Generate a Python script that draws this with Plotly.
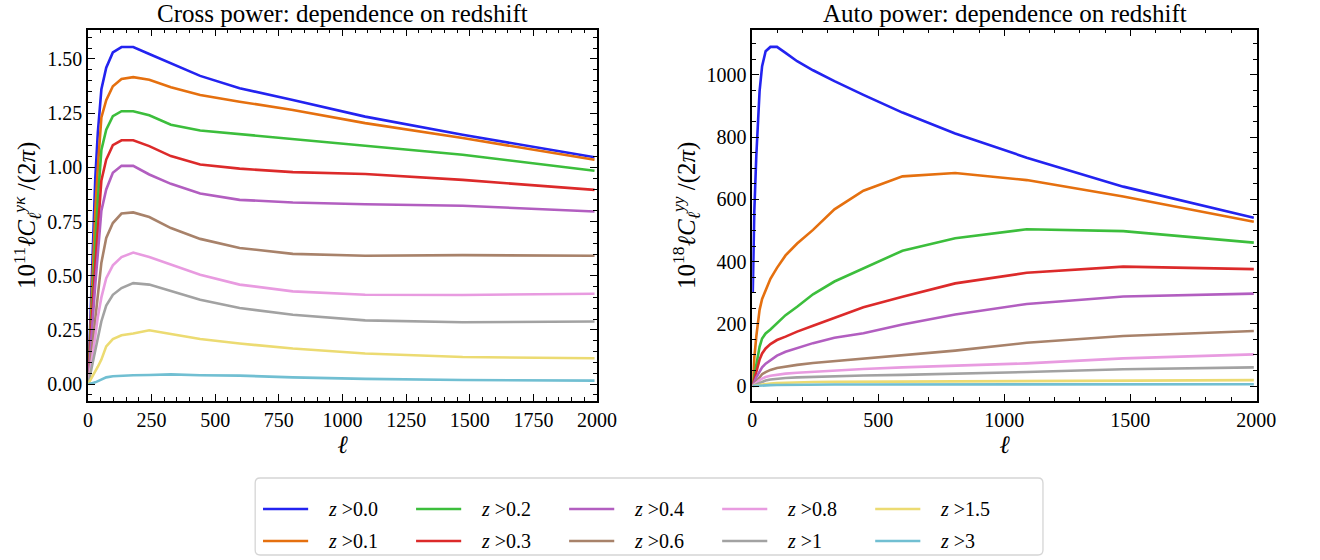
import plotly.graph_objects as go

# ---------------- data ----------------
ells = [2, 4, 8, 16, 29, 39, 53, 72, 98, 132, 178, 241, 326, 441, 596, 805, 1089, 1472, 1990]

labels = ["0.0", "0.1", "0.2", "0.3", "0.4", "0.6", "0.8", "1", "1.5", "3"]
colors = ["#2323f0", "#e5700f", "#3cbe3c", "#dc2a2a", "#b25ec0",
          "#a8826a", "#e89be0", "#a2a2a2", "#ecdb72", "#71bfd2"]

cross_z00 = [0.03, 0.10, 0.26, 0.58, 0.95, 1.16, 1.36, 1.46, 1.53, 1.555, 1.555, 1.523, 1.48, 1.422, 1.365, 1.311, 1.234, 1.150, 1.047]
cross_z01 = [0.02, 0.08, 0.21, 0.47, 0.80, 1.00, 1.23, 1.31, 1.374, 1.408, 1.416, 1.404, 1.37, 1.334, 1.303, 1.265, 1.204, 1.135, 1.035]
cross_z02 = [0.02, 0.07, 0.17, 0.38, 0.65, 0.85, 1.08, 1.174, 1.236, 1.259, 1.259, 1.24, 1.197, 1.17, 1.154, 1.131, 1.10, 1.058, 0.984]
cross_z03 = [0.015, 0.05, 0.14, 0.31, 0.55, 0.73, 0.94, 1.036, 1.102, 1.125, 1.125, 1.098, 1.052, 1.013, 0.994, 0.978, 0.969, 0.942, 0.896]
cross_z04 = [0.01, 0.04, 0.11, 0.25, 0.46, 0.61, 0.80, 0.898, 0.975, 1.007, 1.007, 0.967, 0.924, 0.879, 0.850, 0.838, 0.830, 0.823, 0.796]
cross_z06 = [0.008, 0.03, 0.07, 0.16, 0.30, 0.43, 0.56, 0.674, 0.743, 0.787, 0.792, 0.771, 0.72, 0.67, 0.628, 0.601, 0.592, 0.595, 0.592]
cross_z08 = [0.005, 0.02, 0.05, 0.11, 0.22, 0.31, 0.40, 0.489, 0.548, 0.586, 0.607, 0.586, 0.551, 0.505, 0.459, 0.428, 0.412, 0.411, 0.417]
cross_z1 = [0.004, 0.015, 0.035, 0.08, 0.15, 0.21, 0.29, 0.362, 0.412, 0.443, 0.466, 0.459, 0.428, 0.389, 0.351, 0.32, 0.294, 0.285, 0.289]
cross_z15 = [0.002, 0.006, 0.013, 0.03, 0.055, 0.08, 0.113, 0.174, 0.208, 0.225, 0.233, 0.248, 0.231, 0.208, 0.187, 0.164, 0.141, 0.125, 0.119]
cross_z3 = [0.0, 0.001, 0.002, 0.004, 0.008, 0.013, 0.021, 0.031, 0.036, 0.039, 0.041, 0.042, 0.045, 0.041, 0.039, 0.031, 0.024, 0.019, 0.016]

auto_z00 = [300, 420, 560, 740, 948, 1028, 1076, 1090, 1090, 1071, 1044, 1015, 980, 936, 879, 812, 734, 641, 541]
auto_z01 = [10, 40, 90, 160, 245, 280, 310, 345, 380, 420, 458, 502, 568, 628, 674, 685, 662, 609, 528]
auto_z02 = [5, 15, 35, 75, 126, 153, 169, 182, 201, 228, 255, 295, 336, 378, 435, 475, 504, 498, 461]
auto_z03 = [3, 9, 22, 50, 85, 105, 121, 135, 148, 159, 175, 194, 220, 253, 287, 330, 364, 384, 376]
auto_z04 = [2, 5, 12, 28, 48, 60, 72, 84, 98, 110, 122, 138, 155, 170, 198, 230, 264, 288, 297]
auto_z06 = [1, 3, 8, 18, 30, 38, 45, 52, 58, 63, 68, 74, 80, 88, 98, 114, 139, 161, 177]
auto_z08 = [0.5, 2, 5, 11, 19, 24, 29, 33, 37, 40, 43, 46, 50, 55, 60, 66, 73, 89, 102]
auto_z1 = [0.3, 1, 3, 7, 12, 15, 18, 21, 24, 26, 28, 30, 32, 34, 36, 39, 45, 54, 60]
auto_z15 = [0.1, 0.4, 1, 2.5, 4.5, 5.5, 7, 8.5, 10, 11, 12, 13, 13.5, 14, 15, 16, 17, 18, 19]
auto_z3 = [0, 0.1, 0.3, 0.8, 1.5, 2, 2.5, 3, 3.5, 4, 4.3, 4.6, 4.8, 5, 5.2, 5.4, 5.6, 5.8, 6]

cross_series = [cross_z00, cross_z01, cross_z02, cross_z03, cross_z04,
                cross_z06, cross_z08, cross_z1, cross_z15, cross_z3]
auto_series = [auto_z00, auto_z01, auto_z02, auto_z03, auto_z04,
               auto_z06, auto_z08, auto_z1, auto_z15, auto_z3]

# ---------------- figure ----------------
W, H = 1320, 560
FONT = "Liberation Serif, DejaVu Serif, serif"

fig = go.Figure()
for lab, col, ys in zip(labels, colors, cross_series):
    fig.add_trace(go.Scatter(x=ells, y=ys, mode="lines", line=dict(color=col, width=2.6),
                             name="z >" + lab, showlegend=False, xaxis="x", yaxis="y"))
for lab, col, ys in zip(labels, colors, auto_series):
    fig.add_trace(go.Scatter(x=ells, y=ys, mode="lines", line=dict(color=col, width=2.6),
                             name="z >" + lab, showlegend=False, xaxis="x2", yaxis="y2"))

def px_x(p):
    return p / W

def px_y(p):
    return 1 - p / H

ydom = [px_y(401), px_y(29.5)]

axis_common = dict(
    showline=True, linecolor="black", linewidth=1.5, mirror="ticks",
    ticks="inside", ticklen=7, tickwidth=1.3, tickcolor="black",
    showgrid=False, zeroline=False,
    tickfont=dict(family=FONT, size=20, color="black"),
)

fig.update_layout(
    width=W, height=H,
    margin=dict(l=0, r=0, t=0, b=0),
    paper_bgcolor="white", plot_bgcolor="white",
    font=dict(family=FONT, color="black"),
    xaxis=dict(domain=[px_x(84.5), px_x(603.5)], range=[0, 2000], dtick=250, tick0=0,
               minor=dict(ticks="inside", ticklen=4, dtick=50, tickcolor="black", tickwidth=1),
               title=dict(text="<i>ℓ</i>", font=dict(family=FONT, size=25), standoff=4),
               **axis_common),
    yaxis=dict(domain=ydom, range=[-0.078, 1.636], dtick=0.25, tick0=0, tickformat=".2f",
               minor=dict(ticks="inside", ticklen=4, dtick=0.05, tickcolor="black", tickwidth=1),
               title=dict(text="10<sup>11</sup><i>ℓC</i><sub><i>ℓ</i></sub><sup><i>yκ</i></sup> /(2<i>π</i>)",
                          font=dict(family=FONT, size=25), standoff=4),
               **axis_common),
    xaxis2=dict(domain=[px_x(761.7), px_x(1276)], range=[0, 2002], dtick=500, tick0=0,
                minor=dict(ticks="inside", ticklen=4, dtick=100, tickcolor="black", tickwidth=1),
                title=dict(text="<i>ℓ</i>", font=dict(family=FONT, size=25), standoff=4),
                anchor="y2", **axis_common),
    yaxis2=dict(domain=ydom, range=[-48, 1146], dtick=200, tick0=0,
                minor=dict(ticks="inside", ticklen=4, dtick=50, tickcolor="black", tickwidth=1),
                title=dict(text="10<sup>18</sup><i>ℓC</i><sub><i>ℓ</i></sub><sup><i>yy</i></sup> /(2<i>π</i>)",
                           font=dict(family=FONT, size=25), standoff=4),
                anchor="x2", **axis_common),
)

# subplot titles
fig.add_annotation(text="Cross power: dependence on redshift", xref="paper", yref="paper",
                   x=(px_x(84.5) + px_x(603.5)) / 2, y=px_y(13), xanchor="center", yanchor="middle",
                   showarrow=False, font=dict(family=FONT, size=25, color="black"))
fig.add_annotation(text="Auto power: dependence on redshift", xref="paper", yref="paper",
                   x=(px_x(761.7) + px_x(1276)) / 2, y=px_y(13), xanchor="center", yanchor="middle",
                   showarrow=False, font=dict(family=FONT, size=25, color="black"))

# legend (5 columns x 2 rows, column-major order)
box_l, box_r, box_t, box_b = 255, 1058, 478, 555
r = 5
path = (f"M {px_x(box_l + r)},{px_y(box_t)} L {px_x(box_r - r)},{px_y(box_t)} "
        f"Q {px_x(box_r)},{px_y(box_t)} {px_x(box_r)},{px_y(box_t + r)} "
        f"L {px_x(box_r)},{px_y(box_b - r)} Q {px_x(box_r)},{px_y(box_b)} {px_x(box_r - r)},{px_y(box_b)} "
        f"L {px_x(box_l + r)},{px_y(box_b)} Q {px_x(box_l)},{px_y(box_b)} {px_x(box_l)},{px_y(box_b - r)} "
        f"L {px_x(box_l)},{px_y(box_t + r)} Q {px_x(box_l)},{px_y(box_t)} {px_x(box_l + r)},{px_y(box_t)} Z")
fig.add_shape(type="path", path=path, xref="paper", yref="paper",
              line=dict(color="#d5d5d5", width=1.3), fillcolor="rgba(255,255,255,0.8)")

col_x = [263, 419, 575, 731, 887]
row_y = [509, 541]
for i, (lab, col) in enumerate(zip(labels, colors)):
    c, rr = divmod(i, 2)
    x0 = col_x[c]
    y0 = row_y[rr]
    fig.add_shape(type="line", xref="paper", yref="paper",
                  x0=px_x(x0), x1=px_x(x0 + 46), y0=px_y(y0), y1=px_y(y0),
                  line=dict(color=col, width=2.6))
    fig.add_annotation(text="<i>z</i> >" + lab, xref="paper", yref="paper",
                       x=px_x(x0 + 64), y=px_y(y0), xanchor="left", yanchor="middle",
                       showarrow=False, font=dict(family=FONT, size=20, color="black"))

fig.write_html("out.html")
